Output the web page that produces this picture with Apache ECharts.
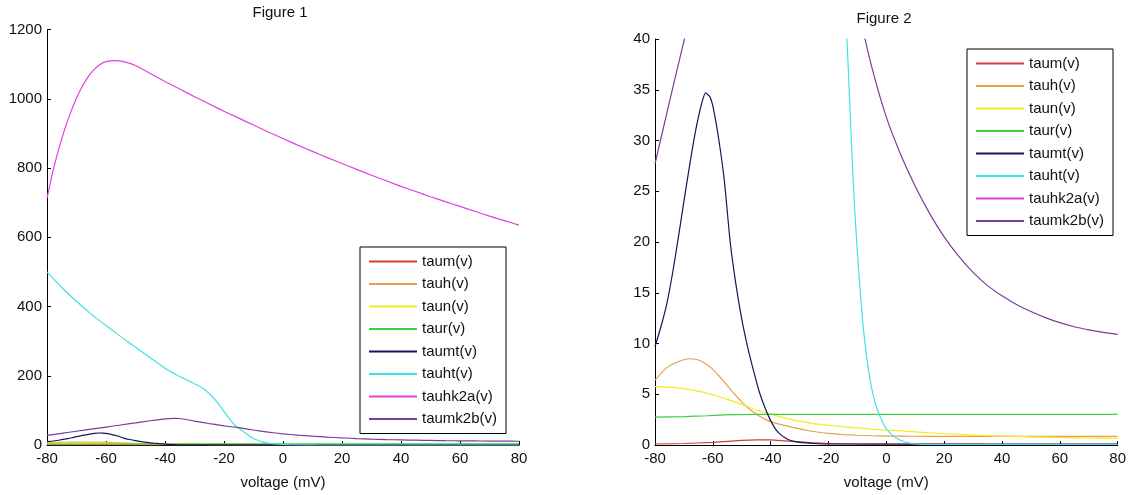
<!DOCTYPE html>
<html><head><meta charset="utf-8">
<script src="https://cdn.jsdelivr.net/npm/echarts@6/dist/echarts.min.js"></script>
<style>html,body{margin:0;padding:0;background:#fff}#c{width:1129px;height:495px}</style>
</head><body><div id="c"></div>
<script>
// ---- data ----
const seriesNames = ['taum(v)','tauh(v)','taun(v)','taur(v)','taumt(v)','tauht(v)','tauhk2a(v)','taumk2b(v)'];
const xTicks = [-80,-60,-40,-20,0,20,40,60,80];

const taumV = [-80,-70,-60,-55,-50,-45,-40,-35,-30,-25,-20,-10,0,20,40,60,80];
const taumY = [0.1,0.15,0.25,0.35,0.45,0.5,0.5,0.4,0.3,0.2,0.15,0.1,0.08,0.06,0.05,0.05,0.05];

const tauhV = [-80,-76,-72,-68,-66,-64,-62,-60,-58,-56,-54,-52,-50,-48,-46,-44,-42,-40,-36,-32,-28,-24,-20,-15,-10,-5,0,10,20,40,60,80];
const tauhY = [6.4,7.6,8.2,8.5,8.45,8.25,7.9,7.45,6.85,6.2,5.5,4.85,4.25,3.7,3.25,2.85,2.55,2.3,1.98,1.72,1.48,1.28,1.14,1.03,0.96,0.91,0.88,0.86,0.85,0.85,0.85,0.85];

const taunV = [-80,-75,-70,-65,-60,-55,-50,-45,-40,-35,-30,-25,-20,-15,-10,-5,0,5,10,15,20,25,30,35,40,45,50,55,60,65,70,75,80];
const taunY = [5.75,5.7,5.55,5.3,4.95,4.5,4.0,3.45,3.05,2.65,2.35,2.1,1.95,1.8,1.68,1.57,1.48,1.4,1.3,1.2,1.12,1.05,0.98,0.93,0.88,0.84,0.8,0.77,0.74,0.71,0.69,0.67,0.65];

const taurV = [-80,-70,-62,-56,-50,-40,0,80];
const taurY = [2.75,2.8,2.88,2.96,3.0,3.02,3.02,3.02];

const taumtV = [-80,-78,-76,-74,-72,-70,-68,-66,-64,-62.5,-61,-60,-58,-56,-54,-52,-50,-48,-46,-44,-42,-40,-38,-36,-34,-32,-30,-25,-20,0,20,40,60,80];
const taumtY = [9.7,11.6,13.8,16.8,20.3,24.0,27.6,30.9,33.5,34.7,34.3,33.4,30.2,26.0,20.0,15.8,12.4,9.7,7.4,5.3,3.7,2.4,1.45,0.9,0.55,0.35,0.25,0.15,0.1,0.1,0.1,0.1,0.1,0.1];

const tauhtV = [-80,-75,-70,-65,-60,-55,-50,-45,-40,-35,-30,-28,-26,-24,-22,-20,-18,-17,-16,-15,-14,-13,-12,-11,-10,-9,-8,-7,-6,-5,-4,-3,-2,-1,0,2,4,6,8,10,15,20,40,60,80];
const tauhtY = [500,455,415,378,345,313,282,252,222,198,177,168,156,140,120,97,74,64,55,48,42.5,36,29.5,23.5,19,15,11.7,9.1,7.1,5.5,4.3,3.4,2.7,2.1,1.6,1.0,0.6,0.35,0.2,0.1,0.05,0.05,0.05,0.05,0.05];

const tauhk2aV = [-80,-78,-76,-74,-72,-70,-68,-66,-64,-62,-60,-57,-54,-50,-45,-40,-35,-30,-25,-20,-15,-10,-5,0,5,10,15,20,25,30,35,40,45,50,55,60,65,70,75,80];
const tauhk2aY = [712,790,855,912,960,1002,1036,1064,1085,1099,1107,1110,1107,1096,1073,1050,1028,1006,985,964,944,924,904,885,866,848,830,813,796,779,763,747,732,717,703,689,675,661,648,635];

const taumk2bV = [-80,-75,-70,-65,-60,-55,-50,-45,-40,-37,-35,-30,-25,-20,-15,-10,-5,0,5,10,15,20,25,30,35,40,45,50,55,60,65,70,75,80];
const taumk2bY = [27.7,33.8,39.8,45.8,51.8,57.8,63.8,70,75.5,77,76.5,69,62,55.5,50,43.3,37.2,32.3,28.6,25.5,22.8,20.5,18.6,17.0,15.7,14.7,13.85,13.15,12.55,12.05,11.65,11.35,11.1,10.9];

// ---- styles ----
const colors = ['#d63a3a','#e3a24c','#f0ec1e','#3fcf3f','#15155e','#40e2e2','#e040e0','#7b3c9b'];
const FONT = 'Liberation Sans, Arial, sans-serif';
const TXT = '#111';

const V = [taumV,tauhV,taunV,taurV,taumtV,tauhtV,tauhk2aV,taumk2bV];
const Y = [taumY,tauhY,taunY,taurY,taumtY,tauhtY,tauhk2aY,taumk2bY];

function pairs(xs, ys){ return xs.map((x,i)=>[x,ys[i]]); }

const series = [];
[0,1].forEach(g=>{
  seriesNames.forEach((n,i)=>{
    series.push({
      name:n, type:'line', xAxisIndex:g, yAxisIndex:g,
      data: pairs(V[i],Y[i]), showSymbol:false, symbol:'none',
      smooth:0.2, clip:true,
      lineStyle:{color:colors[i], width:1.2}, itemStyle:{color:colors[i]},
      emphasis:{disabled:true}
    });
  });
});

function xAx(g){
  return {gridIndex:g, type:'value', min:xTicks[0], max:xTicks[xTicks.length-1], interval:20,
    axisLine:{show:true, onZero:false, lineStyle:{color:'#000', width:1}},
    axisTick:{show:true, inside:true, length:4, lineStyle:{color:'#000'}},
    axisLabel:{margin:6, fontSize:15, color:TXT, fontFamily:FONT, formatter:v=>String(v)},
    splitLine:{show:false},
    name:'voltage (mV)', nameLocation:'middle', nameGap:30,
    nameTextStyle:{fontSize:15, color:TXT, fontFamily:FONT}};
}
function yAx(g, max, interval){
  return {gridIndex:g, type:'value', min:0, max:max, interval:interval,
    axisLine:{show:true, onZero:false, lineStyle:{color:'#000', width:1}},
    axisTick:{show:true, inside:true, length:4, lineStyle:{color:'#000'}},
    axisLabel:{margin:5, fontSize:15, color:TXT, fontFamily:FONT, formatter:v=>String(v)},
    splitLine:{show:false}};
}
function leg(left, top){
  return {left:left, top:top, orient:'vertical', padding:[7,9,7,9], itemGap:7.5,
    itemWidth:48, itemHeight:2, icon:'rect', selectedMode:false,
    borderColor:'#000', borderWidth:1, backgroundColor:'#fff',
    textStyle:{fontFamily:FONT, fontSize:15, color:TXT, lineHeight:15},
    data:seriesNames};
}

const chart = echarts.init(document.getElementById('c'), null, {renderer:'canvas'});
chart.setOption({
  animation:false,
  backgroundColor:'#fff',
  title:[
    {text:'Figure 1', left:275, top:0, textAlign:'center', textStyle:{fontSize:15, fontWeight:'normal', color:TXT, fontFamily:FONT}},
    {text:'Figure 2', left:879, top:6, textAlign:'center', textStyle:{fontSize:15, fontWeight:'normal', color:TXT, fontFamily:FONT}}
  ],
  grid:[
    {left:47, top:29.5, width:472, height:418},
    {left:655, top:39, width:466, height:409}
  ],
  xAxis:[xAx(0), xAx(1)],
  yAxis:[yAx(0,1200,200), yAx(1,40,5)],
  legend:[leg(360,247), leg(967,49)],
  series:series
});
</script></body></html>
